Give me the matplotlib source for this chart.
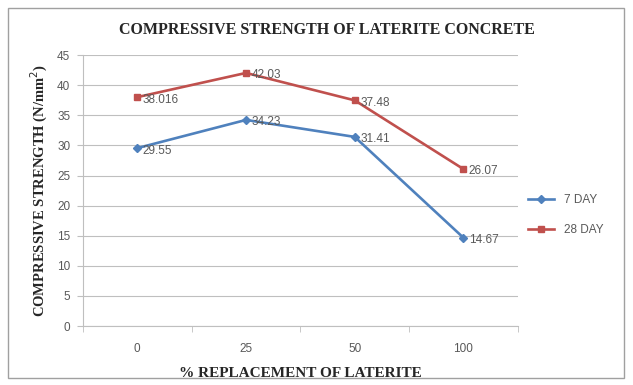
import numpy as np
import matplotlib.pyplot as plt
from matplotlib.patches import Rectangle

# replacement levels (%) and strengths (N/mm2)
replacement = ["0", "25", "50", "100"]
day7 = [29.55, 34.23, 31.41, 14.67]
day28 = [38.016, 42.03, 37.48, 26.07]
day7_labels = ["29.55", "34.23", "31.41", "14.67"]
day28_labels = ["38.016", "42.03", "37.48", "26.07"]

blue = "#4F81BD"
red = "#C0504D"
grey_txt = "#595959"

fig = plt.figure(figsize=(6.33, 3.85), dpi=100)
fig.patches.append(Rectangle((0.013, 0.018), 0.972, 0.962, transform=fig.transFigure,
                             fill=False, edgecolor="#A0A0A0", linewidth=1.0))

ax = fig.add_axes([0.131, 0.153, 0.687, 0.704])
x = np.arange(len(replacement))

ax.plot(x, day7, color=blue, lw=1.9, marker="D", ms=4, label="7 DAY")
ax.plot(x, day28, color=red, lw=1.9, marker="s", ms=4, label="28 DAY")

for xi, v, t in zip(x, day7, day7_labels):
    ax.text(xi + 0.05, v - 0.4, t, color=grey_txt, fontsize=8.5,
            family="Liberation Sans", va="center", ha="left")
for xi, v, t in zip(x, day28, day28_labels):
    ax.text(xi + 0.05, v - 0.4, t, color=grey_txt, fontsize=8.5,
            family="Liberation Sans", va="center", ha="left")

ax.set_xlim(-0.5, 3.5)
ax.set_ylim(0, 45)
ax.set_yticks(range(0, 46, 5))
ax.set_xticks(x)
ax.set_xticklabels(replacement)
ax.set_xticks(np.arange(-0.5, 3.6, 1), minor=True)
ax.tick_params(axis="x", which="major", length=0, pad=12)
ax.tick_params(axis="x", which="minor", length=4, color="#BFBFBF")
ax.tick_params(axis="y", length=4, color="#BFBFBF", pad=5)
for lab in ax.get_xticklabels() + ax.get_yticklabels():
    lab.set_fontfamily("Liberation Sans")
    lab.set_fontsize(8.5)
    lab.set_color(grey_txt)

ax.grid(axis="y", color="#BFBFBF", lw=0.8)
ax.set_axisbelow(True)
for s in ["top", "right"]:
    ax.spines[s].set_visible(False)
ax.spines["left"].set_color("#BFBFBF")
ax.spines["bottom"].set_color("#BFBFBF")

fig.text(0.517, 0.922, "COMPRESSIVE STRENGTH OF LATERITE CONCRETE", family="Liberation Serif",
         fontweight="bold", fontsize=11.5, color="#262626", ha="center", va="center")
ax.set_xlabel("% REPLACEMENT OF LATERITE", family="Liberation Serif",
              fontweight="bold", fontsize=11, color="#262626", labelpad=9)
ax.set_ylabel("COMPRESSIVE STRENGTH (N/mm$^2$)", family="Liberation Serif",
              fontweight="bold", fontsize=10.5, color="#262626", labelpad=5)

leg = ax.legend(loc="center left", bbox_to_anchor=(1.0, 0.41), frameon=False,
                prop={"family": "Liberation Sans", "size": 8.5}, handlelength=2.2,
                labelspacing=1.5)
for t in leg.get_texts():
    t.set_color(grey_txt)

fig.savefig("out.png", dpi=100)
